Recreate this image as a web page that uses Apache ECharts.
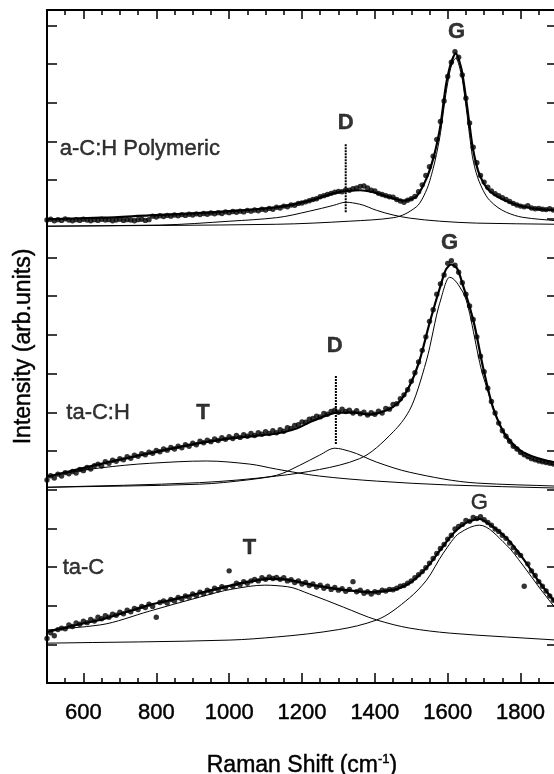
<!DOCTYPE html>
<html>
<head>
<meta charset="utf-8">
<script src="https://cdn.jsdelivr.net/npm/echarts@6/dist/echarts.min.js"></script>
<style>
  html, body { margin: 0; padding: 0; background: #fff; }
  #chart { width: 554px; height: 774px; }
</style>
</head>
<body>
<div id="chart"></div>
<script>
// Raman shift sampling of the measured spectra (cm^-1)
const shift = [
  500, 510, 520, 530, 540, 550, 560, 570, 580, 590,
  600, 610, 620, 630, 640, 650, 660, 670, 680, 690,
  700, 710, 720, 730, 740, 750, 760, 770, 780, 790,
  800, 810, 820, 830, 840, 850, 860, 870, 880, 890,
  900, 910, 920, 930, 940, 950, 960, 970, 980, 990,
  1000, 1010, 1020, 1030, 1040, 1050, 1060, 1070, 1080, 1090,
  1100, 1110, 1120, 1130, 1140, 1150, 1160, 1170, 1180, 1190,
  1200, 1210, 1220, 1230, 1240, 1250, 1260, 1270, 1280, 1290,
  1300, 1310, 1320, 1330, 1340, 1350, 1360, 1370, 1380, 1390,
  1400, 1410, 1420, 1430, 1440, 1450, 1460, 1470, 1480, 1490,
  1500, 1510, 1520, 1530, 1540, 1550, 1560, 1570, 1580, 1590,
  1600, 1610, 1620, 1630, 1640, 1650, 1660, 1670, 1680, 1690,
  1700, 1710, 1720, 1730, 1740, 1750, 1760, 1770, 1780, 1790,
  1800, 1810, 1820, 1830, 1840, 1850, 1860, 1870, 1880, 1890,
  1900
];

// Measured intensities (offset for stacking), one value per shift
const polymericCounts = [
  11.97, 11.99, 11.95, 11.98, 11.96, 12.00, 11.97, 11.95, 11.98, 11.96,
  11.99, 11.97, 11.95, 11.98, 11.96, 11.99, 11.97, 11.98, 11.95, 11.97,
  11.99, 11.96, 11.98, 11.97, 11.95, 11.98, 11.99, 11.96, 11.98, 12.07,
  12.05, 12.08, 12.06, 12.09, 12.07, 12.10, 12.08, 12.11, 12.09, 12.12,
  12.10, 12.13, 12.11, 12.14, 12.12, 12.15, 12.13, 12.16, 12.14, 12.18,
  12.16, 12.19, 12.17, 12.20, 12.18, 12.22, 12.20, 12.23, 12.21, 12.25,
  12.23, 12.27, 12.25, 12.30, 12.28, 12.33, 12.31, 12.36, 12.35, 12.40,
  12.41, 12.44, 12.47, 12.50, 12.52, 12.57, 12.60, 12.63, 12.66, 12.69,
  12.71, 12.70, 12.75, 12.74, 12.78, 12.80, 12.84, 12.85, 12.80, 12.74,
  12.72, 12.66, 12.63, 12.60, 12.57, 12.56, 12.50, 12.46, 12.43, 12.48,
  12.52, 12.58, 12.70, 12.88, 13.12, 13.35, 13.62, 14.05, 14.52, 15.05,
  15.68, 16.05, 16.32, 16.18, 15.72, 15.12, 14.48, 13.85, 13.45, 13.12,
  12.95, 12.82, 12.72, 12.65, 12.60, 12.55, 12.50, 12.45, 12.40, 12.36,
  12.33, 12.31, 12.34, 12.28, 12.26, 12.27, 12.25, 12.24, 12.26, 12.23,
  12.22
];
const taCHCounts = [
  5.25, 5.36, 5.30, 5.40, 5.35, 5.44, 5.41, 5.47, 5.43, 5.52,
  5.49, 5.57, 5.53, 5.62, 5.66, 5.61, 5.72, 5.68, 5.76, 5.73,
  5.80, 5.77, 5.85, 5.81, 5.89, 5.86, 5.93, 5.90, 5.97, 5.94,
  6.01, 5.98, 6.05, 6.02, 6.09, 6.05, 6.12, 6.08, 6.16, 6.12,
  6.20, 6.16, 6.25, 6.21, 6.28, 6.24, 6.31, 6.27, 6.34, 6.30,
  6.37, 6.32, 6.40, 6.35, 6.42, 6.38, 6.45, 6.40, 6.47, 6.43,
  6.50, 6.45, 6.52, 6.47, 6.55, 6.51, 6.60, 6.58, 6.66, 6.68,
  6.75, 6.74, 6.82, 6.84, 6.90, 6.88, 6.97, 6.95, 7.02, 7.05,
  7.00, 7.08, 7.02, 7.05, 6.98, 7.04, 6.96, 7.00, 6.93, 6.99,
  6.95, 7.03, 6.98, 7.10, 7.08, 7.20, 7.22, 7.35, 7.45, 7.58,
  7.80, 8.02, 8.30, 8.60, 8.95, 9.35, 9.65, 10.05, 10.32, 10.55,
  10.85, 10.92, 10.80, 10.62, 10.35, 10.05, 9.75, 9.40, 8.95, 8.45,
  8.05, 7.62, 7.28, 6.98, 6.72, 6.52, 6.38, 6.25, 6.12, 6.05,
  5.96, 5.90, 5.85, 5.80, 5.77, 5.74, 5.72, 5.70, 5.68, 5.66,
  5.65
];
const taCCounts = [
  1.15, 1.30, 1.22, 1.38, 1.42, 1.40, 1.50, 1.46, 1.55, 1.52,
  1.60, 1.56, 1.64, 1.60, 1.70, 1.66, 1.74, 1.70, 1.78, 1.75,
  1.83, 1.79, 1.88, 1.84, 1.93, 1.90, 1.98, 1.95, 2.04, 1.98,
  1.70, 2.08, 2.12, 2.07, 2.16, 2.12, 2.21, 2.17, 2.25, 2.22,
  2.30, 2.26, 2.35, 2.31, 2.40, 2.36, 2.45, 2.41, 2.49, 2.46,
  2.90, 2.50, 2.58, 2.54, 2.62, 2.58, 2.64, 2.68, 2.64, 2.72,
  2.68, 2.74, 2.70, 2.73, 2.68, 2.72, 2.64, 2.67, 2.60, 2.64,
  2.56, 2.60, 2.52, 2.56, 2.48, 2.53, 2.45, 2.50, 2.42, 2.47,
  2.40, 2.44, 2.37, 2.42, 2.62, 2.36, 2.40, 2.32, 2.36, 2.30,
  2.36, 2.34, 2.40, 2.38, 2.42, 2.41, 2.45, 2.50, 2.52, 2.58,
  2.64, 2.72, 2.80, 2.88, 2.98, 3.10, 3.22, 3.35, 3.48, 3.58,
  3.72, 3.82, 3.98, 4.05, 4.10, 4.20, 4.18, 4.28, 4.25, 4.30,
  4.22, 4.15, 4.08, 3.98, 3.92, 3.82, 3.74, 3.62, 3.50, 3.38,
  3.30, 2.50, 3.08, 2.90, 2.78, 2.62, 2.50, 2.38, 2.25, 2.14,
  2.02
];

// Fitted line shapes: [shift, intensity]
const polymericFit = [[500,11.99],[650,12.03],[782,12.09],[900,12.14],[1002,12.20],[1130,12.30],[1221,12.47],[1287,12.66],[1320,12.72],[1360,12.74],[1400,12.68],[1441,12.56],[1479,12.47],[1510,12.55],[1542,13.05],[1560,13.55],[1578,14.30],[1597,15.55],[1610,16.05],[1622,16.28],[1637,15.90],[1651,15.06],[1660,14.42],[1669,13.82],[1687,13.15],[1715,12.72],[1761,12.46],[1806,12.32],[1850,12.25],[1900,12.22]];
const polymericD = [[500,11.81],[809,11.84],[1002,11.94],[1130,12.03],[1221,12.20],[1287,12.35],[1320,12.43],[1358,12.38],[1405,12.22],[1450,12.10],[1495,12.02],[1578,11.94],[1679,11.89],[1900,11.86]];
const polymericG = [[500,11.81],[1130,11.86],[1331,11.94],[1451,12.03],[1515,12.32],[1542,12.75],[1560,13.30],[1578,14.10],[1597,15.35],[1610,15.95],[1622,16.15],[1637,15.75],[1651,14.85],[1660,14.16],[1669,13.55],[1687,12.95],[1715,12.48],[1761,12.17],[1806,12.04],[1900,11.95]];

const taCHFit = [[500,5.33],[645,5.66],[782,5.94],[919,6.20],[1010,6.33],[1130,6.45],[1185,6.58],[1221,6.74],[1268,6.92],[1295,6.99],[1341,6.99],[1386,6.94],[1432,7.05],[1468,7.28],[1495,7.68],[1523,8.35],[1550,9.30],[1578,10.20],[1597,10.72],[1610,10.82],[1624,10.74],[1643,10.25],[1671,9.35],[1698,8.12],[1725,7.10],[1761,6.38],[1808,5.96],[1863,5.77],[1900,5.69]];
const taCHT = [[500,5.35],[645,5.56],[782,5.68],[938,5.74],[1056,5.66],[1130,5.53],[1248,5.35],[1405,5.22],[1600,5.12],[1900,5.04]];
const taCHD = [[500,5.06],[919,5.14],[1050,5.25],[1130,5.37],[1194,5.63],[1248,5.89],[1290,6.07],[1331,5.99],[1405,5.71],[1495,5.45],[1679,5.17],[1900,5.09]];
const taCHG = [[500,5.06],[919,5.18],[1130,5.35],[1248,5.52],[1358,5.80],[1451,6.50],[1495,7.05],[1542,8.35],[1578,9.82],[1605,10.49],[1643,10.08],[1698,7.91],[1770,6.20],[1824,5.81],[1900,5.62]];

const taCFit = [[500,1.32],[590,1.52],[645,1.63],[727,1.86],[782,2.02],[864,2.20],[938,2.37],[1010,2.53],[1056,2.62],[1110,2.69],[1150,2.68],[1221,2.55],[1314,2.41],[1386,2.35],[1451,2.41],[1495,2.58],[1542,2.98],[1578,3.42],[1624,3.95],[1660,4.18],[1687,4.24],[1715,4.10],[1761,3.75],[1806,3.23],[1852,2.60],[1900,2.03]];
const taCT = [[500,1.37],[645,1.50],[782,1.86],[919,2.22],[1010,2.43],[1098,2.53],[1160,2.49],[1221,2.30],[1314,1.96],[1405,1.63],[1495,1.42],[1605,1.29],[1761,1.19],[1900,1.11]];
const taCG = [[500,1.03],[1002,1.11],[1130,1.19],[1300,1.38],[1405,1.63],[1495,2.20],[1542,2.66],[1588,3.36],[1633,3.88],[1687,4.08],[1761,3.57],[1806,3.05],[1852,2.46],[1900,1.88]];

// D-band position markers
const polymericDMark = [[1320,12.17],[1320,13.95]];
const taCHDMark = [[1293,6.18],[1293,7.96]];

// Axis ticks
const majorTicks = [600, 800, 1000, 1200, 1400, 1600, 1800];
const minorTicks = [550, 650, 700, 750, 850, 900, 950, 1050, 1100, 1150, 1250, 1300, 1350, 1450, 1500, 1550, 1650, 1700, 1750, 1850];

// Sample names and band letters: [shift, intensity, text]
const sampleNames = [[535, 13.82, 'a-C:H Polymeric'], [553, 6.98, 'ta-C:H'], [543, 2.97, 'ta-C']];
const bandLetters = [[1624, 16.82, 'G'], [1320, 14.47, 'D'], [1605, 11.37, 'G'], [1290, 8.71, 'D'], [928, 6.98, 'T'], [1056, 3.49, 'T']];
const bandLettersPlain = [[1687, 4.65, 'G']];

const FONT = '"Liberation Sans", Arial, Helvetica, sans-serif';
// a thin outline in the text colour gives the heavier print-like strokes
const INK = { color: '#000', fontFamily: FONT, textBorderColor: '#000', textBorderWidth: 0.45 };
const pair = (ys) => shift.map((x, i) => [x, ys[i]]);

// Monotone cubic (Fritsch-Butland) path through pixel points, as SVG path data
function monotonePath(p) {
  const n = p.length;
  const dx = [], s = [];
  for (let i = 0; i < n - 1; i++) {
    dx[i] = p[i + 1][0] - p[i][0];
    s[i] = (p[i + 1][1] - p[i][1]) / dx[i];
  }
  const m = [];
  m[0] = s[0];
  m[n - 1] = s[n - 2];
  for (let i = 1; i < n - 1; i++) {
    if (s[i - 1] * s[i] <= 0) { m[i] = 0; continue; }
    const w1 = 2 * dx[i] + dx[i - 1], w2 = dx[i] + 2 * dx[i - 1];
    m[i] = (w1 + w2) / (w1 / s[i - 1] + w2 / s[i]);
  }
  let d = 'M' + p[0][0] + ',' + p[0][1];
  for (let i = 0; i < n - 1; i++) {
    const h = dx[i] / 3;
    d += ' C' + (p[i][0] + h) + ',' + (p[i][1] + m[i] * h) + ' ' +
         (p[i + 1][0] - h) + ',' + (p[i + 1][1] - m[i + 1] * h) + ' ' +
         p[i + 1][0] + ',' + p[i + 1][1];
  }
  return d;
}

// A fitted curve drawn as one smooth path through its points on the cartesian grid
function fitCurve(points, width) {
  return {
    type: 'custom', coordinateSystem: 'cartesian2d', xAxisIndex: 0, yAxisIndex: 0,
    silent: true, clip: true, z: 2,
    data: points,
    renderItem: function (params, api) {
      if (params.dataIndex !== 0) return null;
      const px = points.map(pt => api.coord(pt));
      return {
        type: 'path',
        shape: { pathData: monotonePath(px) },
        style: { fill: 'none', stroke: '#000', lineWidth: width }
      };
    }
  };
}

function textSeries(items, align, weight) {
  return {
    type: 'scatter', symbolSize: 0, silent: true, z: 5,
    data: items.map(d => ({ value: [d[0], d[1]], name: d[2] })),
    label: Object.assign({
      show: true, position: [0, 0], align, verticalAlign: 'middle',
      formatter: p => p.name, fontSize: 22, fontWeight: weight
    }, INK)
  };
}

const chart = echarts.init(document.getElementById('chart'), null, { renderer: 'canvas' });

const axisLineStyle = { color: '#000', width: 2 };
const tickStyle = { color: '#000', width: 1.5 };
const xBase = { type: 'value', min: 500, max: 1900, gridIndex: 0, splitLine: { show: false } };

chart.setOption({
  animation: false,
  backgroundColor: '#fff',
  grid: { left: 47, top: 10, width: 510, height: 673, containLabel: false, outerBoundsMode: 'none' },
  xAxis: [
    Object.assign({}, xBase, {
      position: 'bottom',
      name: 'Raman Shift (cm{sup|-1})', nameLocation: 'middle', nameGap: 70,
      nameTextStyle: Object.assign({
        fontSize: 23,
        rich: { sup: Object.assign({ fontSize: 13, verticalAlign: 'top', padding: [0, 0, 12, 0] }, INK) }
      }, INK),
      axisLine: { onZero: false, lineStyle: axisLineStyle },
      axisTick: { inside: true, length: 10, customValues: majorTicks, lineStyle: tickStyle },
      axisLabel: Object.assign({
        customValues: majorTicks, formatter: v => String(v), fontSize: 22, margin: 19
      }, INK)
    }),
    Object.assign({}, xBase, {
      position: 'bottom',
      axisLine: { show: false, onZero: false },
      axisTick: { inside: true, length: 5, customValues: minorTicks, lineStyle: tickStyle },
      axisLabel: { show: false }
    }),
    Object.assign({}, xBase, {
      position: 'top',
      axisLine: { onZero: false, lineStyle: axisLineStyle },
      axisTick: { inside: true, length: 9, customValues: majorTicks, lineStyle: tickStyle },
      axisLabel: { show: false }
    }),
    Object.assign({}, xBase, {
      position: 'top',
      axisLine: { show: false, onZero: false },
      axisTick: { inside: true, length: 5, customValues: minorTicks, lineStyle: tickStyle },
      axisLabel: { show: false }
    })
  ],
  yAxis: [
    {
      type: 'value', min: 0, max: 17.4, interval: 1, position: 'left',
      name: 'Intensity (arb.units)', nameLocation: 'middle', nameGap: 12,
      nameTextStyle: Object.assign({ fontSize: 23 }, INK),
      axisLine: { show: true, onZero: false, lineStyle: axisLineStyle },
      axisTick: { show: true, inside: true, length: 10, lineStyle: tickStyle },
      axisLabel: { show: false },
      splitLine: { show: false }
    },
    {
      type: 'value', min: 0, max: 17.4, interval: 1, position: 'right',
      axisLine: { show: true, onZero: false, lineStyle: axisLineStyle },
      axisTick: { show: true, inside: true, length: 10, lineStyle: tickStyle },
      axisLabel: { show: false },
      splitLine: { show: false }
    }
  ],
  series: [
    fitCurve(polymericD, 1), fitCurve(polymericG, 1),
    fitCurve(taCHT, 1), fitCurve(taCHD, 1), fitCurve(taCHG, 1),
    fitCurve(taCT, 1), fitCurve(taCG, 1),
    fitCurve(polymericFit, 2.2), fitCurve(taCHFit, 2.2), fitCurve(taCFit, 2.2),
    {
      type: 'scatter', symbol: 'circle', symbolSize: 5.4, silent: true, z: 3,
      itemStyle: { color: '#000' },
      data: pair(polymericCounts).concat(pair(taCHCounts), pair(taCCounts))
    },
    {
      type: 'line', data: polymericDMark, showSymbol: false, silent: true, z: 4,
      lineStyle: { color: '#000', width: 2, type: [2, 1] }
    },
    {
      type: 'line', data: taCHDMark, showSymbol: false, silent: true, z: 4,
      lineStyle: { color: '#000', width: 2, type: [2, 1] }
    },
    textSeries(sampleNames, 'left', 'normal'),
    textSeries(bandLetters, 'center', 'bold'),
    textSeries(bandLettersPlain, 'center', 'normal')
  ]
});
</script>
</body>
</html>
